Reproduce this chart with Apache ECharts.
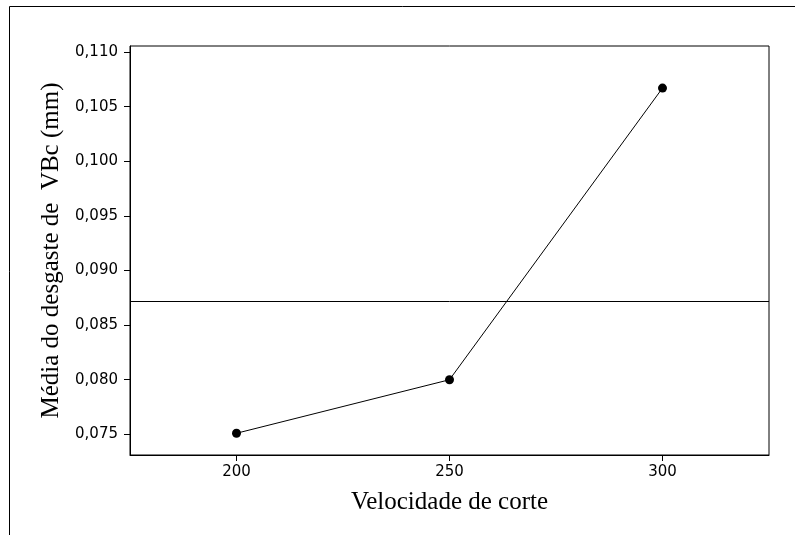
<!DOCTYPE html>
<html>
<head>
<meta charset="utf-8">
<script src="https://cdn.jsdelivr.net/npm/echarts@6/dist/echarts.min.js"></script>
<style>
  html, body { margin: 0; padding: 0; background: #fff; }
  #chart { width: 795px; height: 535px; }
</style>
</head>
<body>
<div id="chart"></div>
<script>
const speeds = [200, 250, 300]
const wear = [0.0751, 0.0800, 0.1067]
const meanWear = 0.0872
const xTicks = [200, 250, 300]
const yTicks = [0.075, 0.080, 0.085, 0.090, 0.095, 0.100, 0.105, 0.110]

const chart = echarts.init(document.getElementById('chart'))

const tickFont = { fontFamily: 'DejaVu Sans', fontSize: 15, color: '#000' }
const titleFont = { fontFamily: 'Liberation Serif', fontSize: 25, color: '#000' }

chart.setOption({
  animation: false,
  graphic: [{
    type: 'rect',
    shape: { x: 9.5, y: 6.5, width: 900, height: 700 },
    style: { fill: 'none', stroke: '#000', lineWidth: 1 },
    silent: true
  }],
  grid: {
    left: 130, right: 26, top: 46, bottom: 80,
    show: true, borderColor: '#000', borderWidth: 1, backgroundColor: 'transparent'
  },
  xAxis: {
    type: 'value',
    min: 175, max: 325,
    name: 'Velocidade de corte',
    nameLocation: 'middle',
    nameGap: 35,
    nameTextStyle: titleFont,
    splitLine: { show: false },
    axisLine: { show: true, lineStyle: { color: '#000', width: 1 } },
    axisTick: { show: true, length: 6, lineStyle: { color: '#000' }, customValues: xTicks },
    axisLabel: { ...tickFont, margin: 10, customValues: xTicks }
  },
  yAxis: {
    type: 'value',
    min: 0.07311, max: 0.11055,
    name: 'Média do desgaste de  VBc (mm)',
    nameLocation: 'middle',
    nameGap: 65,
    nameTextStyle: titleFont,
    splitLine: { show: false },
    axisLine: { show: true, lineStyle: { color: '#000', width: 1 } },
    axisTick: { show: true, length: 6, lineStyle: { color: '#000' }, customValues: yTicks },
    axisLabel: {
      ...tickFont, margin: 12, customValues: yTicks,
      formatter: v => v.toFixed(3).replace('.', ',')
    }
  },
  series: [{
    type: 'line',
    data: speeds.map((s, i) => [s, wear[i]]),
    symbol: 'circle',
    symbolSize: 9,
    lineStyle: { color: '#000', width: 1 },
    itemStyle: { color: '#000' },
    markLine: {
      silent: true,
      symbol: 'none',
      precision: 5,
      label: { show: false },
      lineStyle: { color: '#000', width: 1, type: 'solid' },
      data: [{ yAxis: meanWear }]
    }
  }]
})
</script>
</body>
</html>
